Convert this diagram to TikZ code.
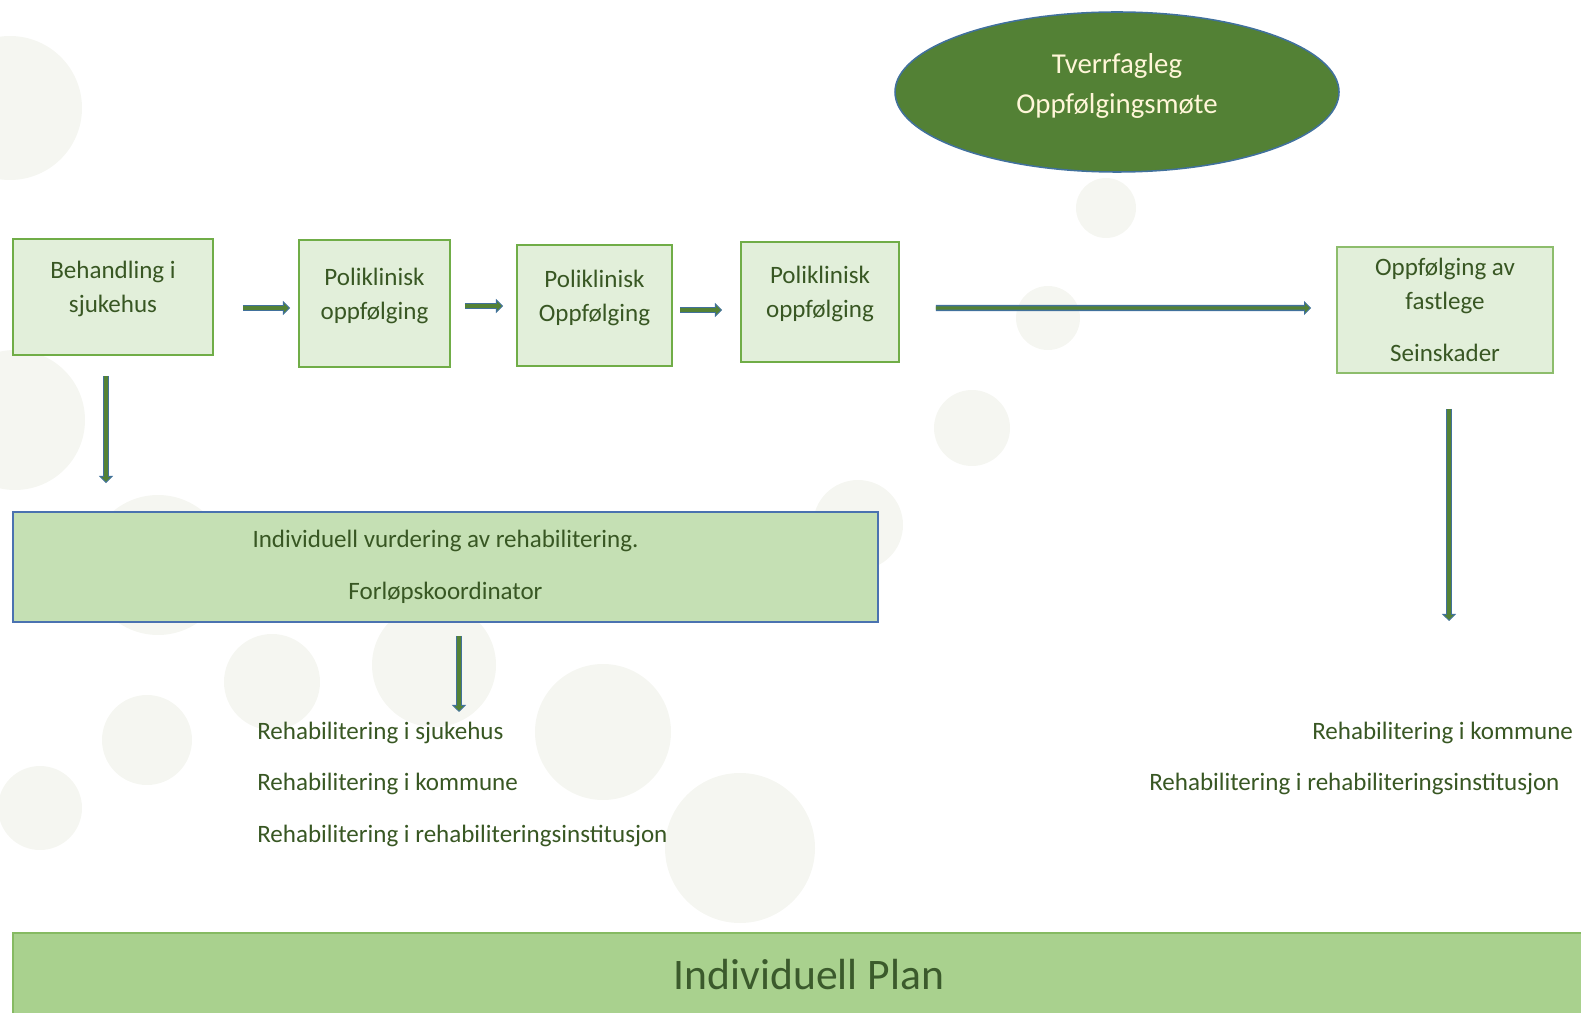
\documentclass[tikz,border=0pt]{standalone}
\usepackage{fontspec}
\setmainfont{Carlito}
\usetikzlibrary{shapes.geometric,arrows.meta}
\definecolor{boxfill}{HTML}{E2EFDA}
\definecolor{boxline}{HTML}{70AD47}
\definecolor{vurdfill}{HTML}{C5E0B4}
\definecolor{vurdline}{HTML}{4A72B0}
\definecolor{motefill}{HTML}{538135}
\definecolor{moteline}{HTML}{41719C}
\definecolor{motetext}{HTML}{FFF6D8}
\definecolor{planfill}{HTML}{A9D18E}
\definecolor{planline}{HTML}{86BA62}
\definecolor{plantext}{HTML}{3B5A2C}
\definecolor{textgreen}{HTML}{385723}
\definecolor{arrowblue}{HTML}{41719C}
\definecolor{arrowgreen}{HTML}{548235}
\definecolor{bgdot}{HTML}{F5F6F1}
\newcommand\flowfont{\fontsize{17.8}{24.2}\selectfont}
\tikzset{flowbox/.style={draw=boxline, fill=boxfill, line width=1.4pt, align=center, text=textgreen, inner sep=2pt, font=\flowfont},
         raisedtext/.style={text depth=14pt},
         vurdbox/.style={flowbox, draw=vurdline, fill=vurdfill},
         moteellipse/.style={ellipse, draw=moteline, fill=motefill, line width=1.1pt, align=center, text=motetext, text depth=12.6pt, font=\fontsize{20.5}{28.5}\selectfont},
         planbar/.style={draw=planline, fill=planfill, line width=1.4pt, text=plantext, font=\fontsize{31}{36}\selectfont},
         listtext/.style={anchor=west, inner sep=0pt, text=textgreen, font=\flowfont},
         flowarrow/.style={draw=arrowblue, line width=4.3pt, -{Triangle[length=5pt,width=10pt,line width=0.6pt,fill=arrowgreen]}, postaction={draw=arrowgreen, line width=2.4pt, -, shorten >=4pt}}}

\begin{document}
\begin{tikzpicture}[x=1cm,y=-1cm]
  \useasboundingbox (0,0) rectangle (39.525,25.325);
  \clip (0,0) rectangle (39.525,25.325);
  % faint dots in the background
  \foreach \x/\y/\r in {0.25/2.7/1.8, 0.375/10.5/1.75, 3.95/14.125/1.75, 6.8/17.05/1.2,
                        10.85/16.625/1.55, 15.075/18.3/1.7, 3.675/18.5/1.125, 1.0/20.2/1.05,
                        18.5/21.2/1.875, 21.45/13.125/1.125, 24.3/10.7/0.95, 26.2/7.95/0.8,
                        27.65/5.2/0.75}
    \fill[bgdot] (\x,\y) circle (\r);

  % top row
  \node[flowbox, raisedtext, minimum width=5cm, minimum height=2.9cm] (beh) at (2.825,7.425) {Behandling i\\sjukehus};
  \node[flowbox, raisedtext, minimum width=3.775cm, minimum height=3.175cm] (pol1) at (9.3625,7.5875) {Poliklinisk\\oppfølging};
  \node[flowbox, raisedtext, minimum width=3.875cm, minimum height=3.025cm] (pol2) at (14.8625,7.6375) {Poliklinisk\\Oppfølging};
  \node[flowbox, raisedtext, minimum width=3.95cm, minimum height=3cm] (pol3) at (20.5,7.55) {Poliklinisk\\oppfølging};
  \node[flowbox, minimum width=5.4cm, minimum height=3.15cm, draw=boxline!80] (fast) at (36.125,7.75) {Oppfølging av\\fastlege\\[12.8pt]Seinskader};
  \node[moteellipse, minimum width=11.1cm, minimum height=4cm] (mote) at (27.925,2.3) {Tverrfagleg\\Oppfølgingsmøte};

  % vurdering
  \node[vurdbox, minimum width=21.625cm, minimum height=2.75cm] (vurd) at (11.1375,14.175) {Individuell vurdering av rehabilitering.\\[12.8pt]Forløpskoordinator};

  % lists
  \node[listtext] (sjuk) at (6.425,18.325) {Rehabilitering i sjukehus};
  \node[listtext] (komm) at (6.425,19.6) {Rehabilitering i kommune};
  \node[listtext] (inst) at (6.425,20.9) {Rehabilitering i rehabiliteringsinstitusjon};
  \node[listtext] (kommr) at (32.8,18.325) {Rehabilitering i kommune};
  \node[listtext] (instr) at (28.725,19.6) {Rehabilitering i rehabiliteringsinstitusjon};

  % plan
  \node[planbar, minimum width=39.8cm, minimum height=2.1cm] (plan) at (20.225,24.375) {Individuell Plan};

  % arrows
  \draw[flowarrow] ([shift={(0.725,0.275)}]beh.east) -- ([shift={(-0.2,0.1125)}]pol1.west);
  \draw[flowarrow] ([shift={(0.35,0.0625)}]pol1.east) -- ([shift={(-0.325,0.0125)}]pol2.west);
  \draw[flowarrow] ([shift={(0.175,0.1125)}]pol2.east) -- ([shift={(-0.45,0.2)}]pol3.west);
  \draw[flowarrow] ([shift={(0.9,0.15)}]pol3.east) -- ([shift={(-0.625,-0.05)}]fast.west);
  \draw[flowarrow] ([shift={(-0.175,0.5)}]beh.south) -- ([shift={(-0.175,-0.7)}]vurd.north -| beh.south);
  \draw[flowarrow] ([shift={(0.3375,0.325)}]vurd.south) -- ++(0,1.9);
  \draw[flowarrow] ([shift={(0.1,0.875)}]fast.south) -- ++(0,5.3);
\end{tikzpicture}
\end{document}
